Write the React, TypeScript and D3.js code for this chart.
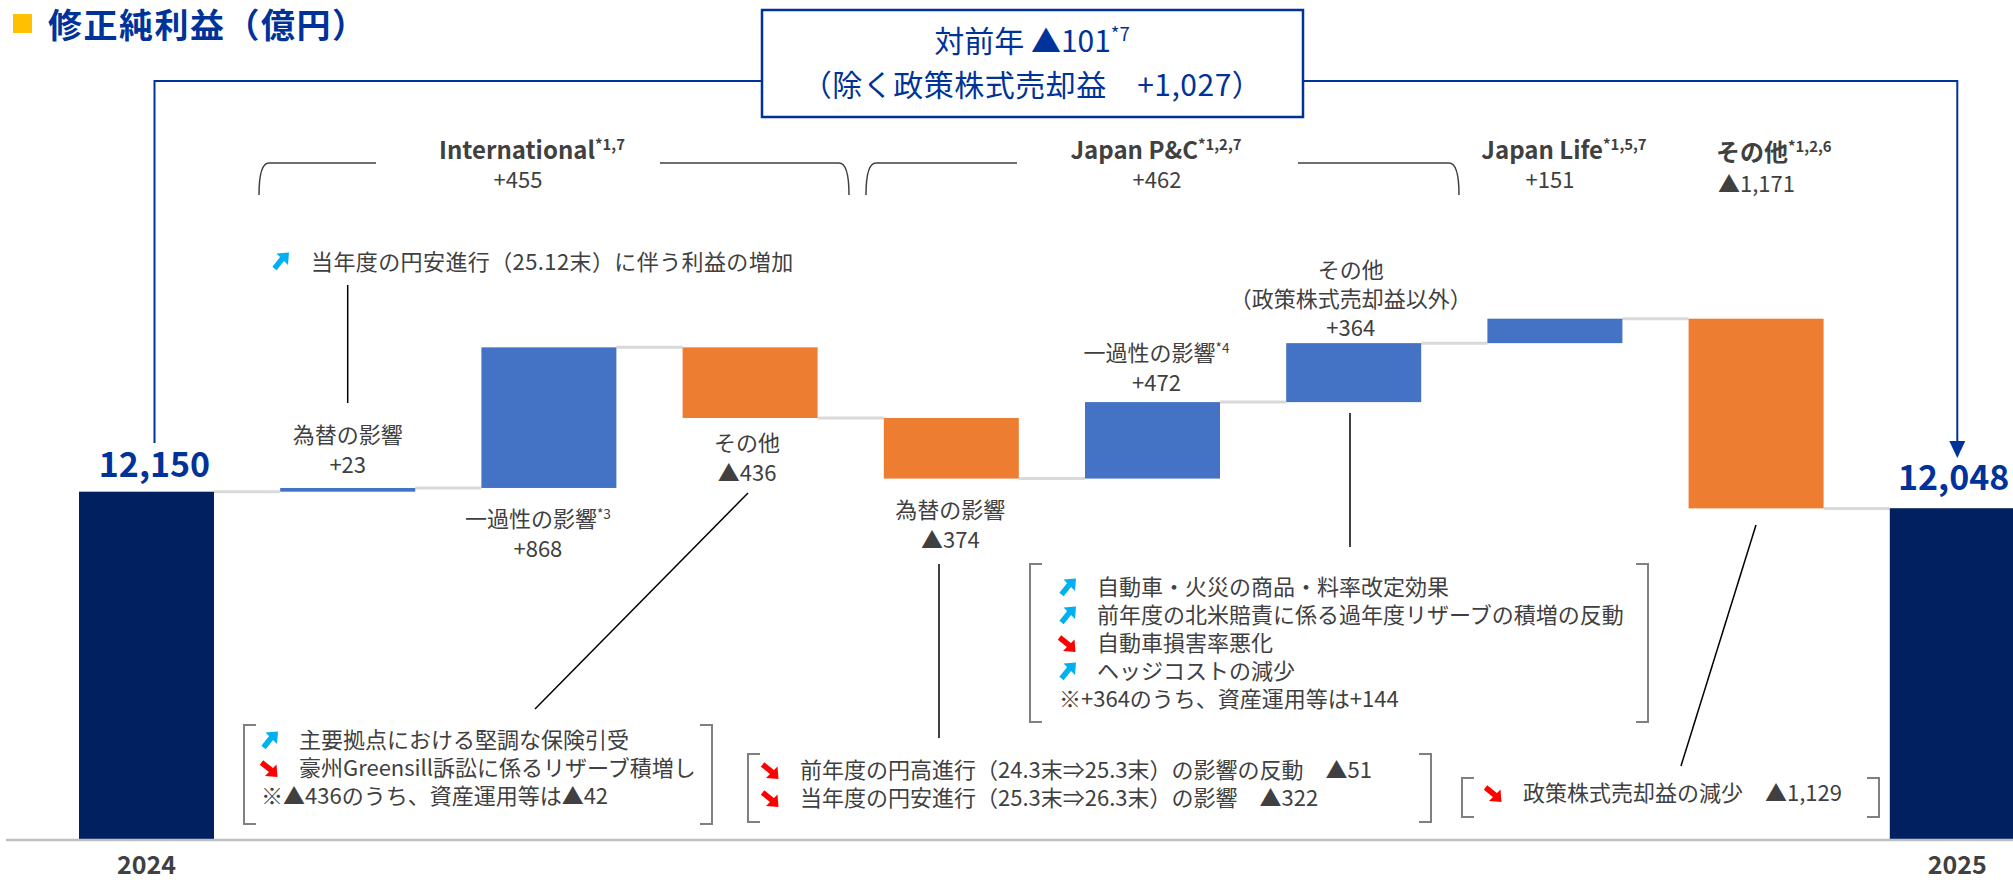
import React, { useRef, useEffect } from "react";
import * as d3 from "d3";

// 修正純利益（億円）: 2024 -> 2025 waterfall
const categories = ["2024", "intl-fx", "intl-oneoff", "intl-other", "pc-fx", "pc-oneoff", "pc-other", "life", "other", "2025"];
const values = [12150, 23, 868, -436, -374, 472, 364, 151, -1171, 12048];
const totals = [true, false, false, false, false, false, false, false, false, true];

const barNames = [[], ["為替の影響"], ["一過性の影響"], ["その他"], ["為替の影響"], ["一過性の影響"], ["その他", "（政策株式売却益以外）"], [], [], []];
const barNotes = ["", "", "*3", "", "", "*4", "", "", "", ""];

const segmentNames = ["International", "Japan P&C", "Japan Life", "その他"];
const segmentNotes = ["*1,7", "*1,2,7", "*1,5,7", "*1,2,6"];
const segmentChanges = ["+455", "+462", "+151", "▲1,171"];

const titleText = "修正純利益（億円）";
const summaryLine1 = "対前年 ▲101";
const summaryNote = "*7";
const summaryLine2 = "（除く政策株式売却益　+1,027）";

const fxNote = "当年度の円安進行（25.12末）に伴う利益の増加";
const intlItems = [
  ["up", "主要拠点における堅調な保険引受"],
  ["down", "豪州Greensill訴訟に係るリザーブ積増し"],
  ["", "※▲436のうち、資産運用等は▲42"],
];
const fxItems = [
  ["down", "前年度の円高進行（24.3末⇒25.3末）の影響の反動　▲51"],
  ["down", "当年度の円安進行（25.3末⇒26.3末）の影響　▲322"],
];
const pcItems = [
  ["up", "自動車・火災の商品・料率改定効果"],
  ["up", "前年度の北米賠責に係る過年度リザーブの積増の反動"],
  ["down", "自動車損害率悪化"],
  ["up", "ヘッジコストの減少"],
  ["", "※+364のうち、資産運用等は+144"],
];
const otherItems = [["down", "政策株式売却益の減少　▲1,129"]];

const W = 2013;
const H = 880;
const FONT = "'Noto Sans CJK JP', 'Noto Sans', sans-serif";
const BLUE = "#003399";
const GRAY = "#404040";

const App = () => {
  const ref = useRef<SVGSVGElement>(null);

  useEffect(() => {
    if (!ref.current) return;
    const svg = d3.select(ref.current);
    svg.selectAll("*").remove();

    const x = d3
      .scaleBand()
      .domain(categories)
      .range([45.9, 2057.9])
      .paddingInner(0.329)
      .paddingOuter(0.1645);
    const y = d3.scaleLinear().domain([10000, 14000]).range([840, 192]);
    const bw = x.bandwidth();
    const cx = (i) => x(categories[i]) + bw / 2;

    // running totals
    let run = 0;
    const bars = values.map((v, i) => {
      if (totals[i]) {
        run = v;
        return { lo: 10000, hi: v, end: v, v };
      }
      const start = run;
      run += v;
      return { lo: Math.min(start, run), hi: Math.max(start, run), end: run, v };
    });

    const fmt = d3.format(",");
    const valText = (i) => (totals[i] ? fmt(values[i]) : values[i] > 0 ? "+" + fmt(values[i]) : "▲" + fmt(-values[i]));

    const label = (px, py, str, o: any = {}) => {
      const size = o.size || 22;
      const t = svg
        .append("text")
        .attr("x", px)
        .attr("y", py)
        .attr("font-family", FONT)
        .attr("font-size", size)
        .attr("font-weight", o.weight || "normal")
        .attr("fill", o.fill || GRAY)
        .attr("letter-spacing", o.spacing || 0)
        .attr("text-anchor", o.anchor || "start");
      t.append("tspan").text(str);
      if (o.sup) {
        t.append("tspan")
          .attr("font-size", size * 0.62)
          .attr("dy", -size * 0.38)
          .text(o.sup);
      }
      return t;
    };

    const arrow = (ax, ay, up) => {
      const col = up ? "#00b0f0" : "#ff0000";
      const g = svg
        .append("g")
        .attr("transform", `translate(${ax},${ay})` + (up ? "" : " rotate(90 8 8)"));
      g.append("line")
        .attr("x1", 2.5)
        .attr("y1", 15.5)
        .attr("x2", 10.5)
        .attr("y2", 5.5)
        .attr("stroke", col)
        .attr("stroke-width", 5.5);
      g.append("path").attr("d", "M17,-0.5 L4.5,0.5 L16,12 Z").attr("fill", col);
    };

    const bracket = (x1, x2, y1, y2) => {
      svg
        .append("path")
        .attr("d", `M${x1 + 12},${y1} H${x1} V${y2} H${x1 + 12} M${x2 - 12},${y1} H${x2} V${y2} H${x2 - 12}`)
        .attr("fill", "none")
        .attr("stroke", "#808080")
        .attr("stroke-width", 2);
    };

    const leader = (x1, y1, x2, y2) => {
      svg
        .append("line")
        .attr("x1", x1)
        .attr("y1", y1)
        .attr("x2", x2)
        .attr("y2", y2)
        .attr("stroke", "#000")
        .attr("stroke-width", 1.5);
    };

    const itemList = (items, ax, tx, y0) => {
      items.forEach(([dir, str], k) => {
        const by = y0 + k * 28;
        if (dir) {
          arrow(ax, by - 16, dir === "up");
          label(tx, by, str);
        } else {
          label(ax, by, str);
        }
      });
    };

    // title
    svg.append("rect").attr("x", 13).attr("y", 14).attr("width", 19).attr("height", 19).attr("fill", "#ffc000");
    label(48, 38, titleText, { size: 34, weight: "bold", fill: BLUE, spacing: 1.5 });

    // summary box + connectors
    svg
      .append("path")
      .attr("d", `M762,81 H${cx(0) + 8} V443 M1303,81 H${cx(9)} V446`)
      .attr("fill", "none")
      .attr("stroke", BLUE)
      .attr("stroke-width", 2);
    svg
      .append("path")
      .attr("d", `M${cx(9) - 8},441 L${cx(9) + 8},441 L${cx(9)},458 Z`)
      .attr("fill", BLUE);
    svg
      .append("rect")
      .attr("x", 762)
      .attr("y", 10)
      .attr("width", 541)
      .attr("height", 107)
      .attr("fill", "#fff")
      .attr("stroke", BLUE)
      .attr("stroke-width", 2.5);
    label(1032, 52, summaryLine1, { size: 30, fill: BLUE, anchor: "middle", sup: summaryNote });
    label(1032, 96, summaryLine2, { size: 30, fill: BLUE, anchor: "middle", spacing: 0.5 });

    // segment headers
    const segBrackets = [
      [259, 849, 376, 660],
      [866, 1459, 1017, 1298],
    ];
    segBrackets.forEach(([a, b, g1, g2]) => {
      svg
        .append("path")
        .attr("d", `M${a},195 Q${a},163 ${a + 10},163 H${g1} M${g2},163 H${b - 10} Q${b},163 ${b},195`)
        .attr("fill", "none")
        .attr("stroke", GRAY)
        .attr("stroke-width", 1.5);
    });
    const segPos = [
      [532, 518, "middle", 159, 188],
      [1156, 1157, "middle", 159, 188],
      [1564, 1550, "middle", 159, 188],
      [1716, 1718, "start", 161, 192],
    ];
    segmentNames.forEach((n, k) => {
      const [hx, vx, anchor, hy, vy] = segPos[k];
      label(hx, hy, n, { size: 24, weight: "bold", anchor, sup: segmentNotes[k] });
      label(vx, vy, segmentChanges[k], { size: 22, anchor });
    });

    // connectors
    for (let i = 0; i < values.length - 1; i++) {
      svg
        .append("line")
        .attr("x1", x(categories[i]) + bw)
        .attr("x2", x(categories[i + 1]))
        .attr("y1", y(bars[i].end))
        .attr("y2", y(bars[i].end))
        .attr("stroke", "#d9d9d9")
        .attr("stroke-width", 3);
    }

    // bars
    svg
      .selectAll(".bar")
      .data(bars)
      .enter()
      .append("rect")
      .attr("class", "bar")
      .attr("x", (d, i) => x(categories[i]))
      .attr("width", bw)
      .attr("y", (d) => y(d.hi))
      .attr("height", (d) => Math.max(2, y(d.lo) - y(d.hi)))
      .attr("fill", (d, i) => (totals[i] ? "#002060" : d.v > 0 ? "#4472c4" : "#ed7d31"));

    // baseline
    svg
      .append("line")
      .attr("x1", 6)
      .attr("x2", W)
      .attr("y1", 840)
      .attr("y2", 840)
      .attr("stroke", "#bfbfbf")
      .attr("stroke-width", 2.5);

    // totals
    label(cx(0) + 8, 477, valText(0), { size: 34, weight: "bold", fill: BLUE, anchor: "middle" });
    label(1898, 490, valText(9), { size: 34, weight: "bold", fill: BLUE });
    label(cx(0), 874, categories[0], { size: 25, weight: "bold", anchor: "middle" });
    label(cx(9), 874, categories[9], { size: 25, weight: "bold", anchor: "middle" });

    // bar labels: [dx, first baseline]
    const labelPos = [null, [0, 443], [-11, 527], [-3, 451], [-1, 518], [4, 361], [-3, 278], null, null, null];
    labelPos.forEach((p, i) => {
      if (!p) return;
      const names = barNames[i];
      names.forEach((n, k) => {
        label(cx(i) + p[0], p[1] + k * 28.5, n, {
          anchor: "middle",
          sup: k === names.length - 1 ? barNotes[i] : "",
        });
      });
      label(cx(i) + p[0], p[1] + names.length * 28.5 + 1, valText(i), { anchor: "middle" });
    });

    // annotations
    arrow(272, 253, true);
    label(311, 270, fxNote, { spacing: 0.4 });
    leader(cx(1), 285, cx(1), 403);

    leader(748, 493, 535, 709);
    bracket(244, 712, 725, 824);
    itemList(intlItems, 261, 299, 748);

    leader(939, 564, 939, 738);
    bracket(748, 1431, 754, 822);
    itemList(fxItems, 762, 800, 778);

    leader(1350, 413, 1350, 547);
    bracket(1030, 1648, 564, 722);
    itemList(pcItems, 1059, 1097, 595);

    leader(1756, 525, 1681, 766);
    bracket(1462, 1879, 778, 817);
    itemList(otherItems, 1485, 1523, 801);
  }, []);

  return (
    <svg
      ref={ref}
      width={W}
      height={H}
      style={{ position: "absolute", left: 0, top: 0, background: "#fff" }}
    ></svg>
  );
};

export default App;
